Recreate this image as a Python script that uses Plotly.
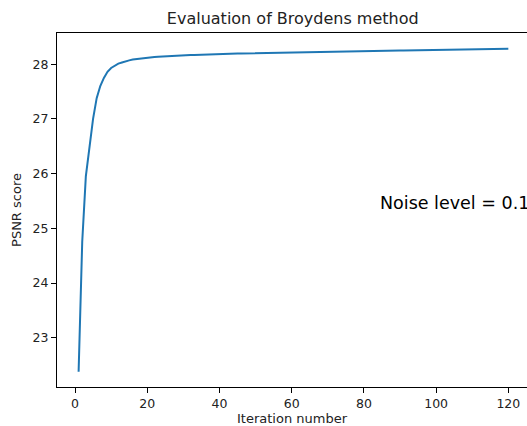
import plotly.graph_objects as go

# PSNR after each Broyden iteration (noise level 0.1)
iterations = list(range(1, 121))
psnr = [
    22.38, 24.75, 25.95, 26.52, 27.00, 27.38, 27.60, 27.75, 27.86, 27.93,
    27.97, 28.01, 28.03, 28.055, 28.07, 28.085, 28.095, 28.105, 28.115, 28.12,
    28.126, 28.132, 28.137, 28.142, 28.146, 28.15, 28.153, 28.156, 28.159, 28.162,
    28.165, 28.168, 28.17, 28.173, 28.175, 28.178, 28.18, 28.182, 28.184, 28.186,
    28.188, 28.19, 28.191, 28.193, 28.194, 28.196, 28.197, 28.198, 28.199, 28.20,
    28.201, 28.202, 28.203, 28.204, 28.205, 28.206, 28.207, 28.209, 28.21, 28.212,
    28.213, 28.215, 28.216, 28.217, 28.219, 28.22, 28.221, 28.223, 28.224, 28.225,
    28.227, 28.228, 28.229, 28.23, 28.232, 28.233, 28.234, 28.235, 28.237, 28.238,
    28.239, 28.24, 28.241, 28.243, 28.244, 28.245, 28.246, 28.247, 28.248, 28.25,
    28.251, 28.252, 28.253, 28.254, 28.255, 28.256, 28.258, 28.259, 28.26, 28.261,
    28.262, 28.263, 28.264, 28.265, 28.266, 28.267, 28.268, 28.27, 28.271, 28.272,
    28.273, 28.274, 28.275, 28.276, 28.277, 28.278, 28.279, 28.28, 28.281, 28.282,
]

x_ticks = [0, 20, 40, 60, 80, 100, 120]
y_ticks = [23, 24, 25, 26, 27, 28]

title_text = "Evaluation of Broydens method"
x_label = "Iteration number"
y_label = "PSNR score"
note_text = "Noise level = 0.1"
note_pos = (84, 25.46)

FONT = "DejaVu Sans"

fig = go.Figure(
    go.Scatter(
        x=iterations,
        y=psnr,
        mode="lines",
        line=dict(color="#1f77b4", width=2),
        hoverinfo="skip",
    )
)

fig.add_annotation(
    x=note_pos[0], y=note_pos[1], text=note_text,
    xref="x", yref="y", xanchor="left", yanchor="middle",
    showarrow=False, font=dict(family=FONT, size=17.5, color="#000000"),
)

axis_common = dict(
    showgrid=False, zeroline=False,
    showline=True, linecolor="#000000", linewidth=1,
    ticks="outside", ticklen=5, tickwidth=1, tickcolor="#000000",
    tickfont=dict(family=FONT, size=12.5, color="#222222"),
)

fig.update_layout(
    width=527, height=426,
    margin=dict(l=57, r=0, t=33, b=39),
    paper_bgcolor="white", plot_bgcolor="white",
    showlegend=False,
    font=dict(family=FONT, color="#222222"),
    title=dict(
        text=title_text, x=0.5555, xanchor="center", y=0.956, yanchor="middle",
        font=dict(family=FONT, size=16, color="#222222"),
    ),
    xaxis=dict(
        axis_common, range=[-4.985, 125.17], tickvals=x_ticks, mirror=True,
        title=dict(text=x_label, standoff=4, font=dict(family=FONT, size=13, color="#222222")),
    ),
    yaxis=dict(
        axis_common, range=[22.10, 28.57], tickvals=y_ticks, mirror=False,
        title=dict(text=y_label, standoff=8, font=dict(family=FONT, size=13, color="#222222")),
    ),
)

fig.write_html("out.html")
